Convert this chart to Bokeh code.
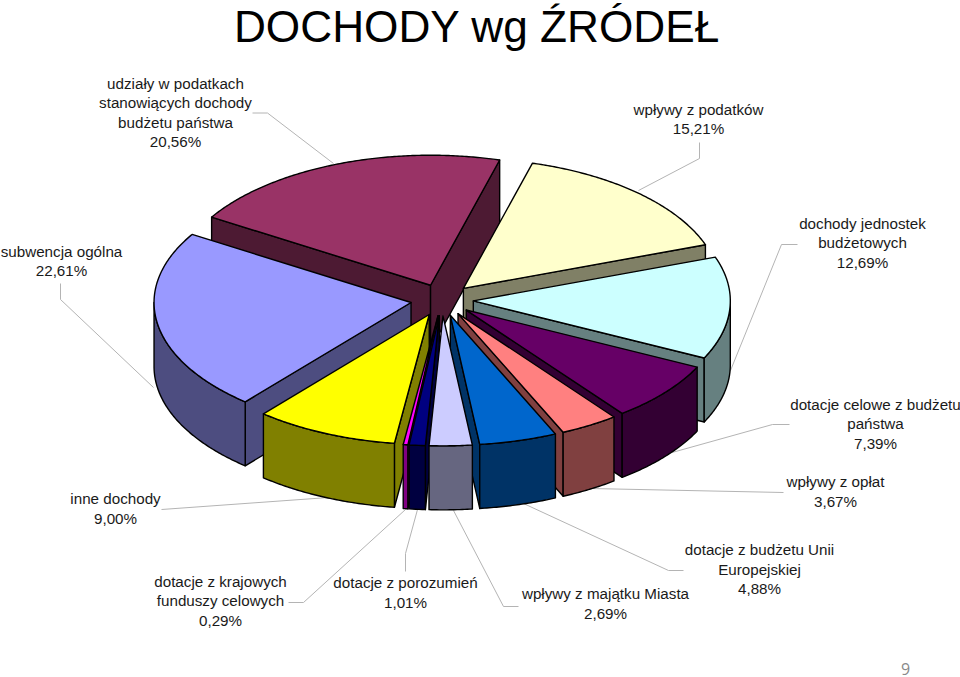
import numpy as np
from bokeh.plotting import figure
from bokeh.models import Range1d, ColumnDataSource
from bokeh.embed import file_html
from bokeh.resources import INLINE

# ---- data (clockwise, starting at "wpływy z podatków") ----
names = [
    ["wpływy z podatków"],
    ["dochody jednostek", "budżetowych"],
    ["dotacje celowe z budżetu", "państwa"],
    ["wpływy z opłat"],
    ["dotacje z budżetu Unii", "Europejskiej"],
    ["wpływy z majątku Miasta"],
    ["dotacje z porozumień"],
    ["dotacje z krajowych", "funduszy celowych"],
    ["inne dochody"],
    ["subwencja ogólna"],
    ["udziały w podatkach", "stanowiących dochody", "budżetu państwa"],
]
values = [15.21, 12.69, 7.39, 3.67, 4.88, 2.69, 1.01, 0.29, 9.00, 22.61, 20.56]
top_colors = ["#FFFFCC", "#CCFFFF", "#660066", "#FF8080", "#0066CC", "#CCCCFF",
              "#000080", "#FF00FF", "#FFFF00", "#9999FF", "#993366"]
side_colors = ["#808066", "#668080", "#330033", "#804040", "#003366", "#666680",
               "#000040", "#800080", "#808000", "#4D4D80", "#4D1A33"]

# ---- label layout: centre x, first line y, leader polyline ----
label_x = [698, 862, 875, 835, 759, 605, 405, 220, 115, 61, 175]
label_y = [108.5, 222.5, 403.5, 481, 549, 593, 582, 580.5, 498, 250.5, 82.5]
leaders = [
    [(699, 142), (699, 158), (638, 190)],
    [(797, 244), (781, 244), (730, 370)],
    [(789, 424), (772, 424), (668, 453)],
    [(783, 492), (590, 488)],
    [(683, 570), (668, 570), (523, 503)],
    [(518, 606), (503, 606), (453, 510)],
    [(405, 571), (405, 553), (417, 509)],
    [(288, 602), (303, 602), (405, 509)],
    [(161, 509), (328, 497)],
    [(60, 283), (60, 299), (153, 387)],
    [(252, 112.5), (267, 112.5), (333, 163)],
]

# ---- pie projection ----
CX, CY, A, B = 441.5, 299.5, 257.0, 130.0
EXPLODE, DEPTH, THETA0 = 0.122, 64.0, 15.6


def pt(theta, r=1.0, dx=0.0, dy=0.0, z=0.0):
    t = np.radians(theta)
    return (CX + dx + A * r * np.sin(t), CY + dy - B * r * np.cos(t) + z)


def slice_polys(start, end):
    mid = (start + end) / 2
    dx = EXPLODE * A * np.sin(np.radians(mid))
    dy = -EXPLODE * B * np.cos(np.radians(mid))
    apex = (CX + dx, CY + dy)
    thetas = np.linspace(start, end, max(int(end - start) * 2, 4))
    rim = [pt(t, 1.0, dx, dy) for t in thetas]
    top = [apex] + rim
    walls = []

    def radial(theta):
        # a wall shows when the outward normal of the edge points down the screen
        p = pt(theta, 1.0, dx, dy)
        ex, ey = p[0] - apex[0], p[1] - apex[1]
        m = pt(mid, 1.0, dx, dy)
        cross = ex * (m[1] - apex[1]) - ey * (m[0] - apex[0])
        nx, ny = (ey, -ex) if cross > 0 else (-ey, ex)
        if ny > 0:
            walls.append([apex, p, (p[0], p[1] + DEPTH), (apex[0], apex[1] + DEPTH)])

    radial(start)
    radial(end)
    # rim wall: only the part that faces the viewer
    vis = []
    for lo, hi in ((90.0, 270.0), (450.0, 630.0)):
        a, b = max(start, lo), min(end, hi)
        if b > a:
            vis.append((a, b))
    for a, b in vis:
        ts = np.linspace(a, b, max(int(b - a) * 2, 4))
        upper = [pt(t, 1.0, dx, dy) for t in ts]
        lower = [(x, y + DEPTH) for x, y in upper][::-1]
        walls.append(upper + lower)
    return top, walls, mid


total = sum(values)
order = []
acc = 0.0
for i, v in enumerate(values):
    s = THETA0 + acc / total * 360
    acc += v
    e = THETA0 + acc / total * 360
    top, walls, mid = slice_polys(s, e)
    order.append((-np.cos(np.radians(mid)), i, top, walls))
order.sort(key=lambda o: o[0])

xs, ys, fills = [], [], []
for _, i, top, walls in order:
    for w in walls:
        xs.append([p[0] for p in w])
        ys.append([p[1] for p in w])
        fills.append(side_colors[i])
    xs.append([p[0] for p in top])
    ys.append([p[1] for p in top])
    fills.append(top_colors[i])

p = figure(width=960, height=677, x_range=Range1d(0, 960), y_range=Range1d(677, 0),
           output_backend="svg", toolbar_location=None, min_border=0)
p.axis.visible = False
p.grid.visible = False
p.outline_line_color = None
p.background_fill_color = "white"

# leader lines lie behind the pie
for pl in leaders:
    p.line([q[0] for q in pl], [q[1] for q in pl], line_color="#B4B4B4", line_width=1)

p.patches("xs", "ys", source=ColumnDataSource(dict(xs=xs, ys=ys, fill=fills)),
          fill_color="fill", line_color="#000000", line_width=1.4, line_join="round")

# labels
tx, ty, tt = [], [], []
for n, v, x, y in zip(names, values, label_x, label_y):
    lines = n + [f"{v:.2f}".replace(".", ",") + "%"]
    for k, line in enumerate(lines):
        tx.append(x)
        ty.append(y + k * 19.5)
        tt.append(line)
p.text(tx, ty, text=tt, text_font={"value": "Liberation Sans"}, text_font_size="15.2px",
       text_color="#1a1a1a", text_align="center", text_baseline="alphabetic")

p.text([476.5], [26], text=["DOCHODY wg ŹRÓDEŁ"], text_font={"value": "Liberation Sans"},
       text_font_size="44.2px", text_color="#000000", text_align="center",
       text_baseline="alphabetic")
p.text([905], [668], text=["9"], text_font={"value": "Open Sans"}, text_font_size="16px",
       text_color="#898989", text_align="center", text_baseline="alphabetic")

open("out.html", "w").write(file_html(p, INLINE))
